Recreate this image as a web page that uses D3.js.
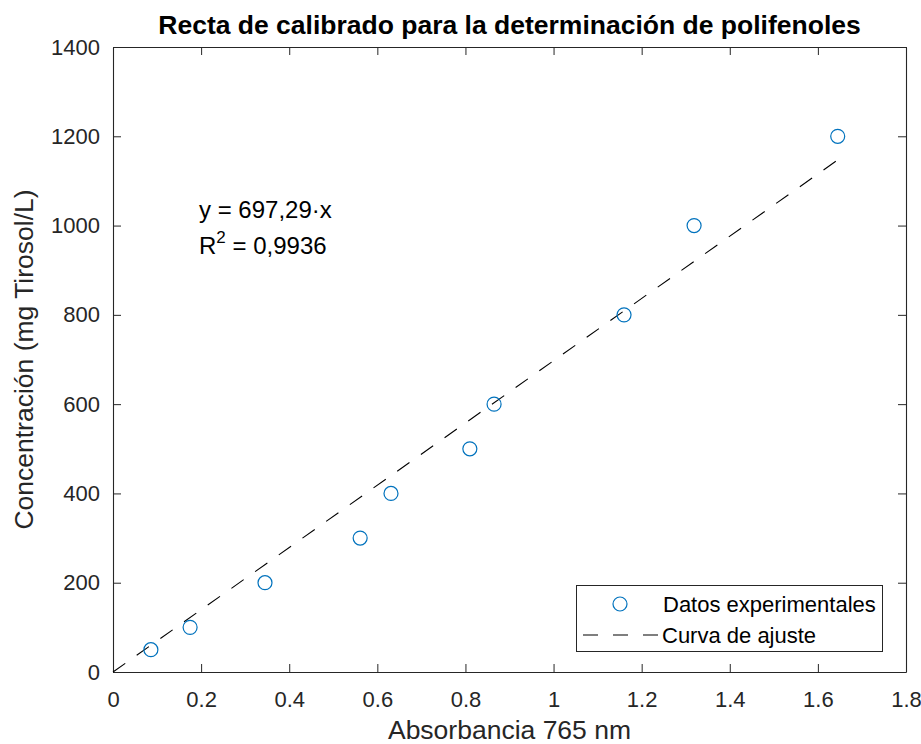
<!DOCTYPE html>
<html>
<head>
<meta charset="utf-8">
<script src="https://cdn.jsdelivr.net/npm/d3@7"></script>
<style>
  body { margin: 0; background: #fff; }
  text { font-family: "Liberation Sans", Arial, sans-serif; }
</style>
</head>
<body>
<svg id="chart" width="921" height="744"></svg>
<script>
// absorbance readings and concentrations
var absorbancia = [0.086, 0.175, 0.345, 0.561, 0.631, 0.810, 0.865, 1.160, 1.319, 1.645];
var concentracion = [50, 100, 200, 300, 400, 500, 600, 800, 1000, 1200];
var pendiente = 697.29;
var xTicks = [0, 0.2, 0.4, 0.6, 0.8, 1, 1.2, 1.4, 1.6, 1.8];
var yTicks = [0, 200, 400, 600, 800, 1000, 1200, 1400];

var width = 921, height = 744;
var margin = {left: 113, right: 15, top: 47, bottom: 72};
var axisColor = "#262626";

var svg = d3.select("#chart");

var x = d3.scaleLinear().domain([0, 1.8]).range([margin.left, width - margin.right]);
var y = d3.scaleLinear().domain([0, 1400]).range([height - margin.bottom, margin.top]);

var tickLen = 8;
var fmt = function(d) { return String(d); };

// bottom axis
var gx = svg.append("g")
  .attr("transform", "translate(0," + (height - margin.bottom) + ")")
  .call(d3.axisBottom(x).tickValues(xTicks).tickFormat(fmt).tickSizeInner(-tickLen).tickSizeOuter(0).tickPadding(19));
// top axis
var gxt = svg.append("g")
  .attr("transform", "translate(0," + margin.top + ")")
  .call(d3.axisTop(x).tickValues(xTicks).tickFormat("").tickSizeInner(-tickLen).tickSizeOuter(0));
// left axis
var gy = svg.append("g")
  .attr("transform", "translate(" + margin.left + ",0)")
  .call(d3.axisLeft(y).tickValues(yTicks).tickFormat(fmt).tickSizeInner(-tickLen).tickSizeOuter(0).tickPadding(13));
// right axis
var gyr = svg.append("g")
  .attr("transform", "translate(" + (width - margin.right) + ",0)")
  .call(d3.axisRight(y).tickValues(yTicks).tickFormat("").tickSizeInner(-tickLen).tickSizeOuter(0));

[gx, gxt, gy, gyr].forEach(function(g) {
  g.select(".domain").attr("stroke", axisColor).attr("stroke-width", 1.1);
  g.selectAll(".tick line").attr("stroke", axisColor).attr("stroke-width", 1);
  g.selectAll(".tick text").attr("fill", axisColor).style("font-size", "22px");
});

// fit line
var xMax = d3.max(absorbancia);
svg.append("line")
  .attr("x1", x(0)).attr("y1", y(0))
  .attr("x2", x(xMax)).attr("y2", y(pendiente * xMax))
  .attr("stroke", "#000")
  .attr("stroke-width", 1.1)
  .attr("stroke-dasharray", "15,14");

// data points
svg.selectAll("circle.pt")
  .data(absorbancia)
  .enter()
  .append("circle")
  .attr("class", "pt")
  .attr("cx", function(d) { return x(d); })
  .attr("cy", function(d, i) { return y(concentracion[i]); })
  .attr("r", 7)
  .attr("fill", "none")
  .attr("stroke", "#0072bd")
  .attr("stroke-width", 1.2);

// title
svg.append("text")
  .attr("x", (margin.left + width - margin.right) / 2)
  .attr("y", 34)
  .attr("text-anchor", "middle")
  .style("font-size", "26.5px")
  .style("font-weight", "bold")
  .attr("fill", "#000")
  .text("Recta de calibrado para la determinación de polifenoles");

// axis labels
svg.append("text")
  .attr("x", (margin.left + width - margin.right) / 2)
  .attr("y", 739)
  .attr("text-anchor", "middle")
  .style("font-size", "26.5px")
  .attr("fill", axisColor)
  .text("Absorbancia 765 nm");

svg.append("text")
  .attr("transform", "translate(33," + ((margin.top + height - margin.bottom) / 2) + ") rotate(-90)")
  .attr("text-anchor", "middle")
  .style("font-size", "26.5px")
  .attr("fill", axisColor)
  .text("Concentración (mg Tirosol/L)");

// equation
svg.append("text")
  .attr("x", 199).attr("y", 218)
  .style("font-size", "24px")
  .attr("fill", "#000")
  .text("y = 697,29·x");

var r2 = svg.append("text")
  .attr("x", 199).attr("y", 254)
  .style("font-size", "24px")
  .attr("fill", "#000");
r2.append("tspan").text("R");
r2.append("tspan").attr("dy", -11).style("font-size", "17px").text("2");
r2.append("tspan").attr("dy", 11).text(" = 0,9936");

// legend
var lg = svg.append("g");
lg.append("rect")
  .attr("x", 576.5).attr("y", 585.5)
  .attr("width", 306).attr("height", 66)
  .attr("fill", "#fff")
  .attr("stroke", axisColor)
  .attr("stroke-width", 1);
lg.append("circle")
  .attr("cx", 620).attr("cy", 604)
  .attr("r", 7)
  .attr("fill", "none")
  .attr("stroke", "#0072bd")
  .attr("stroke-width", 1.2);
lg.append("text")
  .attr("x", 663).attr("y", 612)
  .style("font-size", "22px")
  .attr("fill", "#000")
  .text("Datos experimentales");
lg.append("line")
  .attr("x1", 583).attr("y1", 635)
  .attr("x2", 658).attr("y2", 635)
  .attr("stroke", "#000")
  .attr("stroke-width", 1.1)
  .attr("stroke-dasharray", "15,15");
lg.append("text")
  .attr("x", 662).attr("y", 643)
  .style("font-size", "22px")
  .attr("fill", "#000")
  .text("Curva de ajuste");
</script>
</body>
</html>
